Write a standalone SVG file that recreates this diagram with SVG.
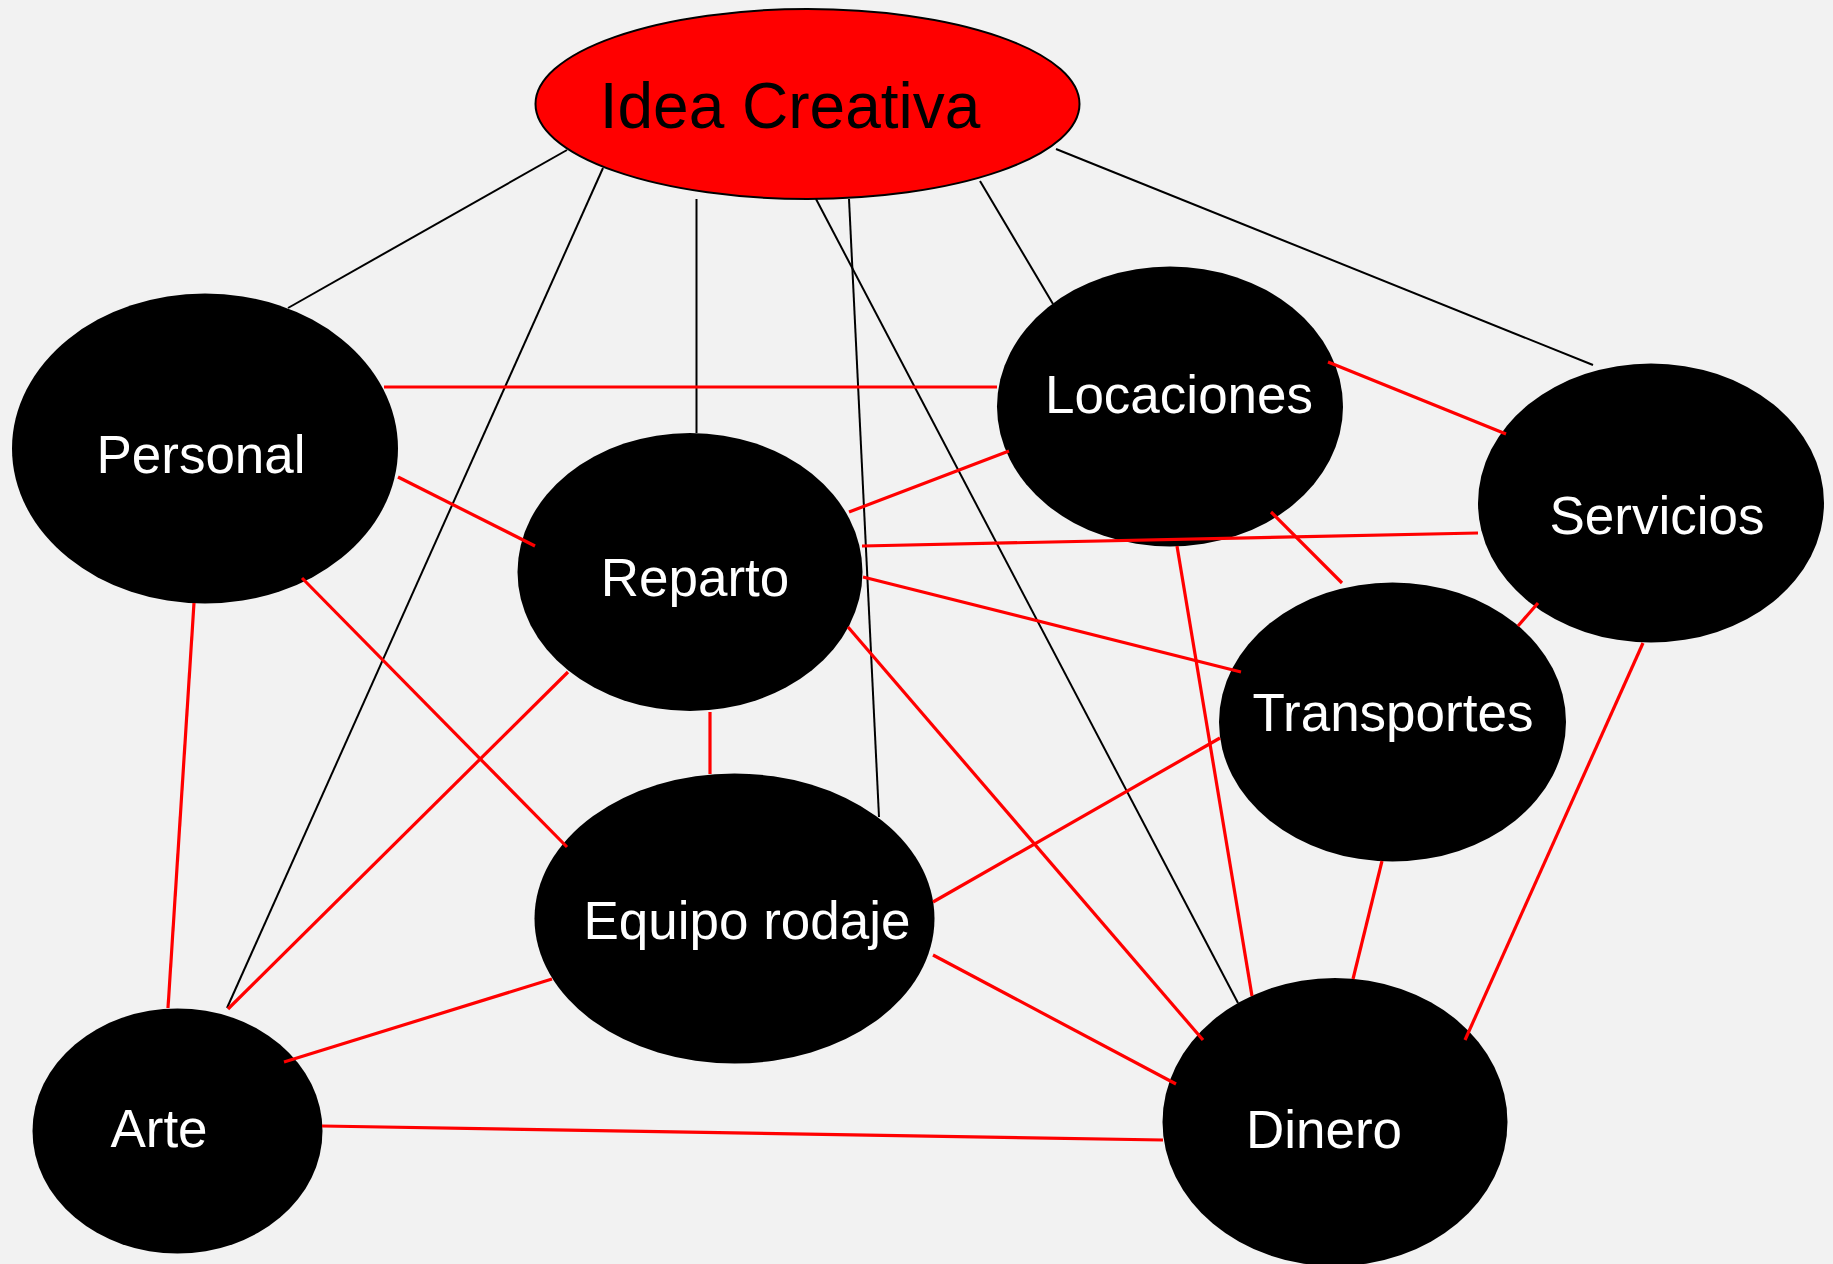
<svg xmlns="http://www.w3.org/2000/svg" width="1833" height="1264" viewBox="0 0 1833 1264">
<style>
.node{fill:#000000;}
.lbl{fill:#ffffff;font-family:"Liberation Sans",Arial,sans-serif;font-size:53px;text-anchor:middle;}
.blk{stroke:#000000;stroke-width:2;fill:none;}
.red{stroke:#ff0000;stroke-width:3.2;fill:none;}
</style>
<rect x="0" y="0" width="1833" height="1264" fill="#f2f2f2"/>
<g id="nodes">
<g id="idea"><ellipse cx="807.5" cy="104" rx="272" ry="95" fill="#ff0000" stroke="#000000" stroke-width="2"/><text x="790" y="128" font-family="Liberation Sans, Arial, sans-serif" font-size="64" text-anchor="middle" fill="#000000">Idea Creativa</text></g>
<g id="personal"><ellipse class="node" cx="205" cy="448.5" rx="193" ry="155"/><text class="lbl" x="201" y="473">Personal</text></g>
<g id="locaciones"><ellipse class="node" cx="1170" cy="406.5" rx="173" ry="140"/><text class="lbl" x="1179" y="413">Locaciones</text></g>
<g id="servicios"><ellipse class="node" cx="1651" cy="503" rx="173" ry="139.5"/><text class="lbl" x="1657" y="534">Servicios</text></g>
<g id="reparto"><ellipse class="node" cx="690" cy="572" rx="172.5" ry="139"/><text class="lbl" x="695" y="596">Reparto</text></g>
<g id="transportes"><ellipse class="node" cx="1392.5" cy="722" rx="173.5" ry="139.5"/><text class="lbl" x="1393" y="731">Transportes</text></g>
<g id="equipo"><ellipse class="node" cx="734.5" cy="918.5" rx="200" ry="145"/><text class="lbl" x="747" y="939">Equipo rodaje</text></g>
<g id="arte"><ellipse class="node" cx="177.5" cy="1131" rx="145" ry="122.5"/><text class="lbl" x="159" y="1147">Arte</text></g>
<g id="dinero"><ellipse class="node" cx="1335" cy="1122" rx="172.5" ry="144"/><text class="lbl" x="1324" y="1148">Dinero</text></g>
</g>
<g id="connectors">
<line class="blk" x1="567" y1="150" x2="288" y2="308"/>
<line class="blk" x1="603" y1="168" x2="227" y2="1008"/>
<line class="blk" x1="696.5" y1="199" x2="696.5" y2="433"/>
<line class="blk" x1="816" y1="199" x2="1238" y2="1003"/>
<line class="blk" x1="849" y1="199" x2="879" y2="817"/>
<line class="blk" x1="980" y1="181" x2="1053" y2="304"/>
<line class="blk" x1="1056" y1="149" x2="1593" y2="365"/>
<line class="red" x1="384" y1="387" x2="997" y2="387"/>
<line class="red" x1="398" y1="477" x2="535" y2="546"/>
<line class="red" x1="302" y1="578" x2="567" y2="847"/>
<line class="red" x1="194" y1="603" x2="168" y2="1008"/>
<line class="red" x1="849" y1="512" x2="1009" y2="451"/>
<line class="red" x1="862" y1="546" x2="1478" y2="533"/>
<line class="red" x1="863" y1="577" x2="1241" y2="672"/>
<line class="red" x1="848" y1="627" x2="1203" y2="1040"/>
<line class="red" x1="710" y1="712" x2="710" y2="774"/>
<line class="red" x1="568" y1="672" x2="228" y2="1009"/>
<line class="red" x1="1328" y1="362" x2="1506" y2="434"/>
<line class="red" x1="1271" y1="512" x2="1342" y2="583"/>
<line class="red" x1="1177" y1="546" x2="1252" y2="996"/>
<line class="red" x1="1538" y1="603" x2="1518" y2="626"/>
<line class="red" x1="1643" y1="643" x2="1465" y2="1040"/>
<line class="red" x1="1220" y1="738" x2="933" y2="902"/>
<line class="red" x1="1382" y1="861" x2="1353" y2="979"/>
<line class="red" x1="933" y1="955" x2="1176" y2="1084"/>
<line class="red" x1="552" y1="979" x2="284" y2="1062"/>
<line class="red" x1="322" y1="1126" x2="1163" y2="1140"/>
</g>
</svg>
